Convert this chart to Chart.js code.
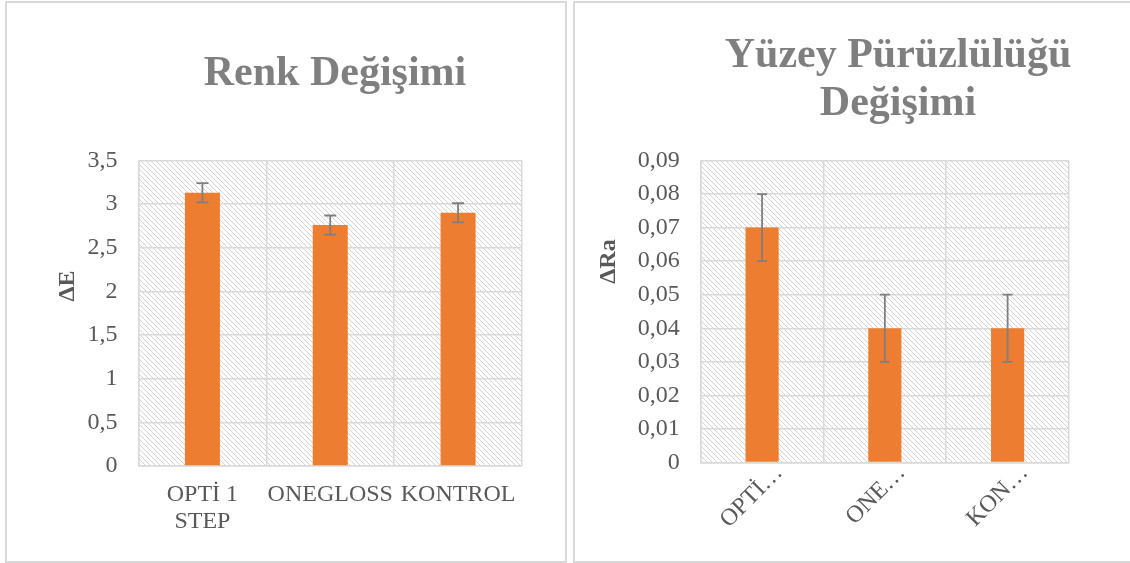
<!DOCTYPE html>
<html>
<head>
<meta charset="utf-8">
<script src="https://cdn.jsdelivr.net/npm/chart.js@4/dist/chart.umd.min.js"></script>
<style>
  html, body { margin: 0; padding: 0; background: #ffffff; width: 1130px; height: 563px; overflow: hidden; }
  .frame { position: absolute; box-sizing: border-box; border: 2px solid #d9d9d9; background: #fff; }
  .cv { position: absolute; top: 0; }
</style>
</head>
<body>
<div class="frame" style="left:5px; top:1px; width:562px; height:562px;"></div>
<div class="frame" style="left:573px; top:1px; width:570px; height:562px;"></div>
<canvas id="c1" class="cv" style="left:0px;" width="570" height="563"></canvas>
<canvas id="c2" class="cv" style="left:570px;" width="560" height="563"></canvas>
<script>
// ---------- DATA ----------
const colorCategories = [["OPTİ 1", "STEP"], "ONEGLOSS", "KONTROL"];
const deltaE = [3.13, 2.76, 2.90];
const deltaEError = [0.11, 0.11, 0.11];
const deltaETicks = { min: 0, max: 3.5, step: 0.5 };

const roughCategories = ["OPTİ…", "ONE…", "KON…"];
const deltaRa = [0.07, 0.04, 0.04];
const deltaRaError = [0.01, 0.01, 0.01];
const deltaRaTicks = { min: 0, max: 0.09, step: 0.01 };

const title1 = ["Renk Değişimi"];
const title2 = ["Yüzey Pürüzlülüğü", "Değişimi"];
const yTitle1 = "ΔE";
const yTitle2 = "ΔRa";

// ---------- STYLE ----------
const SERIF = '"Liberation Serif", "Times New Roman", serif';
const BAR = '#ed7d31';
const GRID = '#d9d9d9';
const TEXT = '#595959';

function makeHatch() {
  const s = 5;
  const c = document.createElement('canvas');
  c.width = s; c.height = s;
  const g = c.getContext('2d');
  g.fillStyle = '#ffffff';
  g.fillRect(0, 0, s, s);
  g.fillStyle = '#d3d3d3';
  for (let y = 0; y < s; y++) {
    for (let x = 0; x < s; x++) {
      if (((x - y) % s + s) % s === 0) g.fillRect(x, y, 1, 1);
    }
  }
  return c;
}

const hatchPlugin = {
  id: 'hatch',
  beforeDraw(chart) {
    const { ctx, chartArea: a } = chart;
    ctx.save();
    const p = ctx.createPattern(makeHatch(), 'repeat');
    ctx.fillStyle = p;
    ctx.fillRect(a.left, a.top, a.right - a.left, a.bottom - a.top);
    ctx.restore();
  }
};

const errorBarPlugin = {
  id: 'errorBars',
  afterDatasetsDraw(chart, args, opts) {
    const { ctx } = chart;
    const yScale = chart.scales.y;
    chart.data.datasets.forEach((ds, di) => {
      const meta = chart.getDatasetMeta(di);
      const errs = ds.errors || [];
      meta.data.forEach((bar, i) => {
        const v = ds.data[i], e = errs[i];
        if (e == null) return;
        const x = bar.x;
        const yTop = yScale.getPixelForValue(v + e);
        const yBot = yScale.getPixelForValue(v - e);
        ctx.save();
        ctx.strokeStyle = opts.color;
        ctx.lineWidth = opts.width;
        ctx.beginPath();
        ctx.moveTo(x, yTop); ctx.lineTo(x, yBot);
        ctx.moveTo(x - opts.cap / 2, yTop); ctx.lineTo(x + opts.cap / 2, yTop);
        ctx.moveTo(x - opts.cap / 2, yBot); ctx.lineTo(x + opts.cap / 2, yBot);
        ctx.stroke();
        ctx.restore();
      });
    });
  }
};

const textPlugin = {
  id: 'excelText',
  afterDraw(chart, args, opts) {
    const { ctx } = chart;
    ctx.save();
    // chart title
    ctx.fillStyle = opts.titleColor;
    ctx.font = 'bold ' + opts.titleSize + 'px ' + SERIF;
    ctx.textAlign = 'center';
    ctx.textBaseline = 'alphabetic';
    opts.title.forEach((line, i) => {
      ctx.fillText(line, opts.titleX, opts.titleBaseline + i * opts.titleLineGap);
    });
    // axis title (vertical)
    ctx.fillStyle = TEXT;
    ctx.font = 'bold ' + opts.axisSize + 'px ' + SERIF;
    ctx.translate(opts.axisX, opts.axisY);
    ctx.rotate(-Math.PI / 2);
    ctx.textAlign = 'center';
    ctx.textBaseline = 'middle';
    ctx.fillText(opts.axisTitle, 0, 0);
    ctx.restore();
  }
};

function fmt(v) {
  const n = Math.round(v * 1000) / 1000;
  return String(n).replace('.', ',');
}

function buildChart(canvasId, cfg) {
  return new Chart(document.getElementById(canvasId), {
    type: 'bar',
    data: {
      labels: cfg.labels,
      datasets: [{
        data: cfg.values,
        errors: cfg.errors,
        backgroundColor: BAR,
        borderWidth: 0,
        categoryPercentage: 1,
        barPercentage: cfg.barPct
      }]
    },
    options: {
      responsive: false,
      animation: false,
      devicePixelRatio: 1,
      layout: { padding: { left: 0, right: cfg.padRight, top: cfg.top, bottom: 0 } },
      plugins: {
        legend: { display: false },
        tooltip: { enabled: false },
        title: { display: false },
        errorBars: { color: '#7f7f7f', width: 1.8, cap: cfg.cap },
        excelText: cfg.text
      },
      scales: {
        x: {
          grid: { color: GRID, lineWidth: 1.5, drawTicks: false, offset: true },
          border: { color: GRID, width: 1.5 },
          ticks: {
            color: TEXT,
            font: { family: SERIF, size: 24, lineHeight: 1.125 },
            padding: cfg.xPad,
            labelOffset: cfg.xOffset,
            autoSkip: false,
            maxRotation: cfg.rot,
            minRotation: cfg.rot
          },
          afterFit(scale) { scale.height = cfg.xHeight; }
        },
        y: {
          min: cfg.ticks.min,
          max: cfg.ticks.max,
          grid: { color: GRID, lineWidth: 1.5, drawTicks: false },
          border: { color: GRID, width: 1.5 },
          title: { display: false, text: cfg.text.axisTitle },
          ticks: {
            stepSize: cfg.ticks.step,
            color: TEXT,
            font: { family: SERIF, size: 24 },
            padding: 21,
            callback: (v) => fmt(v)
          },
          afterFit(scale) { scale.width = cfg.yWidth; }
        }
      }
    },
    plugins: [hatchPlugin, errorBarPlugin, textPlugin]
  });
}

buildChart('c1', {
  labels: colorCategories,
  values: deltaE,
  errors: deltaEError,
  ticks: deltaETicks,
  barPct: 0.274,
  cap: 12,
  padRight: 48,
  top: 160.5,
  yWidth: 138.5,
  xHeight: 97,
  xPad: 15,
  xOffset: 0,
  rot: 0,
  text: {
    title: title1, titleX: 335, titleBaseline: 84.5, titleLineGap: 48,
    titleSize: 42, titleColor: '#7f7f7f',
    axisTitle: yTitle1, axisX: 68, axisY: 286, axisSize: 24
  }
});

buildChart('c2', {
  labels: roughCategories,
  values: deltaRa,
  errors: deltaRaError,
  ticks: deltaRaTicks,
  barPct: 0.27,
  cap: 10,
  padRight: 61,
  top: 160.5,
  yWidth: 130.7,
  xHeight: 100.5,
  xPad: -3,
  xOffset: 17,
  rot: 45,
  text: {
    title: title2, titleX: 328, titleBaseline: 66.5, titleLineGap: 48,
    titleSize: 42, titleColor: '#7f7f7f',
    axisTitle: yTitle2, axisX: 39, axisY: 261.5, axisSize: 24
  }
});
</script>
</body>
</html>
